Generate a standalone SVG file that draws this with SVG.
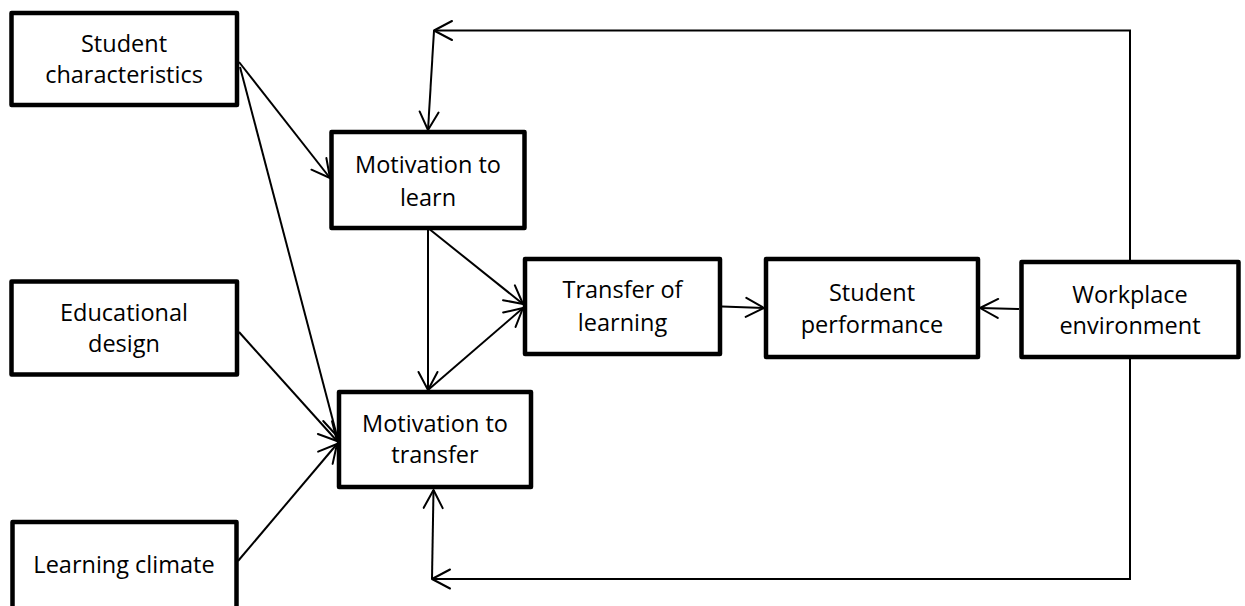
<svg xmlns="http://www.w3.org/2000/svg" width="1245" height="606" viewBox="0 0 1245 606">
<defs>
<style>
.box{fill:#fff;stroke:#000;stroke-width:4.5;stroke-linejoin:round}
.lbl{font-family:"Open Sans","Liberation Sans",sans-serif;font-size:23.5px;fill:#000;text-anchor:middle}
.con{fill:none;stroke:#000;stroke-width:2;marker-end:url(#arr)}
.fb{fill:none;stroke:#000;stroke-width:2}
</style>
<marker id="arr" markerUnits="userSpaceOnUse" viewBox="-22 -12 26 24" markerWidth="26" markerHeight="24" refX="0" refY="0" orient="auto">
<path d="M-18,-9.5 L0,0 L-18,9.5" fill="none" stroke="#000" stroke-width="2" stroke-linejoin="round" stroke-linecap="round"/>
</marker>
</defs>
<rect width="1245" height="606" fill="#fff"/>
<g id="connectors">
<path class="con" d="M239,62 L330,178"/>
<path class="con" d="M240,67 L337,436"/>
<path class="con" d="M239,332 L337,441"/>
<path class="con" d="M238,561 L337,444"/>
<path class="con" d="M428,228 L428,390"/>
<path class="con" d="M428,228 L523,304"/>
<path class="con" d="M428,390 L523,308"/>
<path class="con" d="M722,306.5 L764,308"/>
<path class="con" d="M1019,309 L980,308"/>
<path class="con" d="M1130,262 V30.5 H434"/>
<path class="con" d="M434,30.5 L428,130"/>
<path class="con" d="M1130,357 V579 H432"/>
<path class="con" d="M432,579 L433.5,490"/>
</g>
<g id="student-characteristics">
<rect class="box" x="11.5" y="13" width="225.5" height="92"/>
<text class="lbl" x="124" y="52">Student</text>
<text class="lbl" x="124" y="83">characteristics</text>
</g>
<g id="educational-design">
<rect class="box" x="11.5" y="281.5" width="225.5" height="93"/>
<text class="lbl" x="124" y="321">Educational</text>
<text class="lbl" x="124" y="352">design</text>
</g>
<g id="learning-climate">
<rect class="box" x="12.5" y="522" width="224" height="90"/>
<text class="lbl" x="124" y="573">Learning climate</text>
</g>
<g id="motivation-to-learn">
<rect class="box" x="331.5" y="132" width="193" height="96"/>
<text class="lbl" x="428" y="173">Motivation to</text>
<text class="lbl" x="428" y="206">learn</text>
</g>
<g id="motivation-to-transfer">
<rect class="box" x="339" y="392" width="192" height="95"/>
<text class="lbl" x="435" y="432">Motivation to</text>
<text class="lbl" x="435" y="463">transfer</text>
</g>
<g id="transfer-of-learning">
<rect class="box" x="525" y="259" width="195" height="95"/>
<text class="lbl" x="622.5" y="298">Transfer of</text>
<text class="lbl" x="622.5" y="331">learning</text>
</g>
<g id="student-performance">
<rect class="box" x="766" y="259" width="212" height="98"/>
<text class="lbl" x="872" y="301">Student</text>
<text class="lbl" x="872" y="333">performance</text>
</g>
<g id="workplace-environment">
<rect class="box" x="1021.5" y="262" width="217" height="95"/>
<text class="lbl" x="1130" y="303">Workplace</text>
<text class="lbl" x="1130" y="334">environment</text>
</g>
</svg>
